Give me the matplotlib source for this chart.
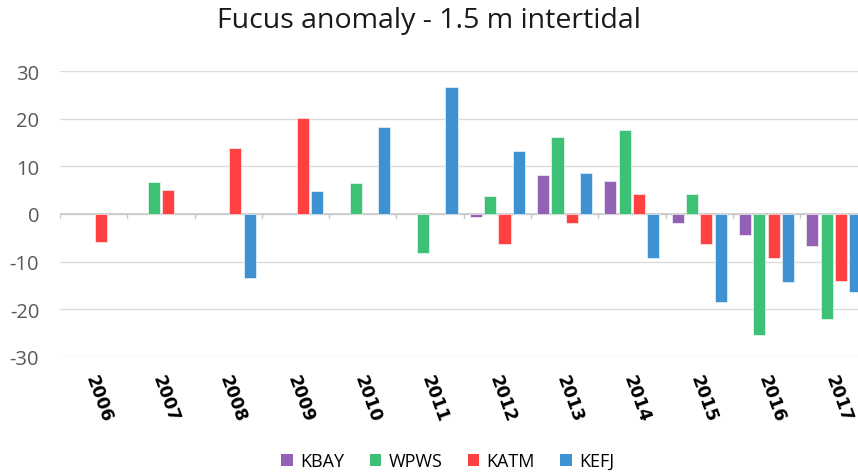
import numpy as np
import matplotlib
matplotlib.use("Agg")
import matplotlib.pyplot as plt
from matplotlib.patches import Patch

years = ["2006", "2007", "2008", "2009", "2010", "2011",
         "2012", "2013", "2014", "2015", "2016", "2017"]
nan = np.nan
kbay = [nan, nan, nan, nan, nan, nan, -0.6, 8.1, 6.9, -1.9, -4.5, -6.7]
wpws = [nan, 6.6, nan, nan, 6.4, -8.2, 3.7, 16.2, 17.7, 4.1, -25.4, -22.1]
katm = [-5.9, 5.1, 13.9, 20.2, nan, nan, -6.4, -1.9, 4.1, -6.4, -9.2, -14.0]
kefj = [nan, nan, -13.5, 4.8, 18.3, 26.6, 13.2, 8.6, -9.2, -18.6, -14.3, -16.3]
series_names = ["KBAY", "WPWS", "KATM", "KEFJ"]
colors = ["#9462B5", "#3DC177", "#FF4141", "#3F92D2"]
yticks = [-30, -20, -10, 0, 10, 20, 30]

fig = plt.figure(figsize=(8.58, 4.77), dpi=100)
ax = fig.add_axes([0.0699, 0.250, 0.9301, 0.599])

x = np.arange(len(years))
slot = 0.213
width = 0.18
for i, (vals, c) in enumerate(zip([kbay, wpws, katm, kefj], colors)):
    ax.bar(x + (i - 1.5) * slot, vals, width=width, color=c,
           edgecolor="white", linewidth=0.4, zorder=3)

ax.set_ylim(-30, 30)
ax.set_xlim(-0.5, 11.36)
ax.set_yticks(yticks)
ax.set_yticklabels([str(v) for v in yticks], fontsize=14.5, color="#595959",
                   family="Open Sans")
ax.tick_params(axis="y", length=0, pad=15)
ax.grid(axis="y", color="#dcdcdc", linewidth=1.0, linestyle="-", zorder=0)
ax.axhline(0, color="#c8c8c8", linewidth=1.2, zorder=2)
for b in np.arange(-0.5, 12, 1.0):
    ax.plot([b, b], [0, -0.8], color="#c8c8c8", linewidth=1.0, zorder=2,
            clip_on=True)
for s in ax.spines.values():
    s.set_visible(False)

ax.set_xticks(x)
ax.set_xticklabels([])
ax.tick_params(axis="x", length=0)
for xi, lab in zip(x, years):
    ax.annotate(lab, xy=(xi, -30), xycoords="data", xytext=(-2.5, -13),
                textcoords="offset points", rotation=-70, rotation_mode="anchor",
                ha="left", va="center", fontsize=12.5, fontweight="bold",
                color="black", annotation_clip=False)

fig.suptitle("Fucus anomaly - 1.5 m intertidal", x=0.5, y=0.985, fontsize=20.5,
             family="Open Sans", color="#1a1a1a")

handles = [Patch(facecolor=c, edgecolor="none") for c in colors]
fig.legend(handles, series_names, loc="center", bbox_to_anchor=(0.522, 0.031),
           ncol=4, frameon=False, handlelength=0.65, handleheight=0.65,
           columnspacing=1.4, handletextpad=0.4,
           prop={"family": "Open Sans", "size": 13})

fig.savefig("out.png", dpi=100)
